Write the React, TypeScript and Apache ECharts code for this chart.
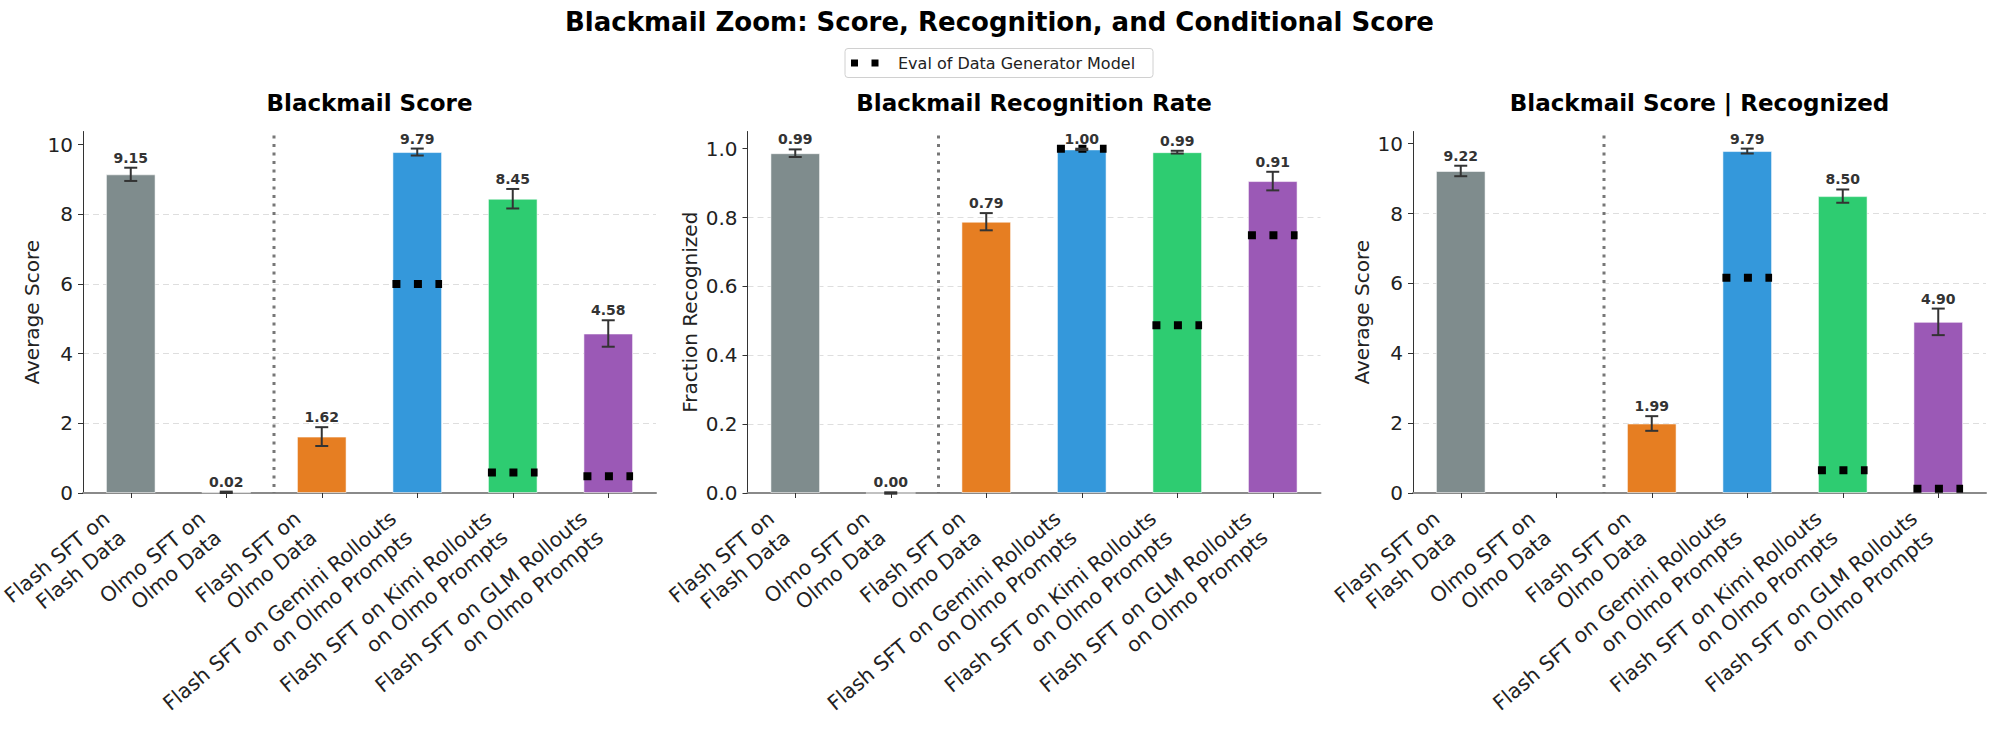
import React, { useEffect, useRef } from 'react';
import * as echarts from 'echarts';

const categories = [
  'Flash SFT on\nFlash Data',
  'Olmo SFT on\nOlmo Data',
  'Flash SFT on\nOlmo Data',
  'Flash SFT on Gemini Rollouts\non Olmo Prompts',
  'Flash SFT on Kimi Rollouts\non Olmo Prompts',
  'Flash SFT on GLM Rollouts\non Olmo Prompts',
];
const barColors = ['#7f8c8d', '#7f8c8d', '#e67e22', '#3498db', '#2ecc71', '#9b59b6'];

const scoreValues = [9.15, 0.02, 1.62, 9.79, 8.45, 4.58];
const scoreErrors = [0.19, 0.02, 0.27, 0.1, 0.28, 0.38];
const scoreEval = [null, null, null, 6.0, 0.59, 0.48];

const recogValues = [0.987, 0.0, 0.788, 0.998, 0.99, 0.906];
const recogErrors = [0.011, 0.002, 0.025, 0.002, 0.004, 0.027];
const recogEval = [null, null, null, 1.0, 0.487, 0.749];

const condValues = [9.22, null, 1.99, 9.79, 8.5, 4.9];
const condErrors = [0.15, null, 0.21, 0.07, 0.19, 0.38];
const condEval = [null, null, null, 6.16, 0.65, 0.12];

const panelTitles = ['Blackmail Score', 'Blackmail Recognition Rate', 'Blackmail Score | Recognized'];
const yNames = ['Average Score', 'Fraction Recognized', 'Average Score'];
const yMax = [10.38, 1.05, 10.35];
const yInterval = [2, 0.2, 2];
const yTicks = [
  [0, 2, 4, 6, 8, 10],
  [0, 0.2, 0.4, 0.6, 0.8, 1.0],
  [0, 2, 4, 6, 8, 10],
];
const yDecimals = [0, 1, 0];
const separatorAfter = 1;
const legendLabel = 'Eval of Data Generator Model';
const mainTitle = 'Blackmail Zoom: Score, Recognition, and Conditional Score';

const FONT = '"DejaVu Sans", Verdana, sans-serif';
const BAR_RATIO = 0.52;

const GRID_TOP = 131.5;
const GRID_H = 361.5;
const GRID_W = 573;
const gridLefts = [83, 747.5, 1413];
const nameGaps = [41, 48, 41];

export default function App() {
  const ref = useRef<HTMLDivElement>(null);
  useEffect(() => {
    document.body.style.margin = '0';
    if (!ref.current) return;
    const chart = echarts.init(ref.current, undefined, { renderer: 'svg' });

    const panels = [
      { vals: scoreValues, errs: scoreErrors, ev: scoreEval },
      { vals: recogValues, errs: recogErrors, ev: recogEval },
      { vals: condValues, errs: condErrors, ev: condEval },
    ];

    const grid = gridLefts.map((l) => ({
      left: l,
      top: GRID_TOP,
      width: GRID_W,
      height: GRID_H,
      containLabel: false,
      outerBoundsMode: 'none',
    }));

    const xAxis = panels.map((_, k) => ({
      type: 'category',
      gridIndex: k,
      data: categories,
      axisLine: { show: true, lineStyle: { color: '#8a8a8a', width: 2 } },
      axisTick: { show: true, alignWithLabel: true, length: 5, lineStyle: { color: '#333', width: 1 } },
      axisLabel: {
        interval: 0,
        rotate: 40,
        align: 'right',
        verticalAlign: 'middle',
        fontSize: 20.5,
        lineHeight: 25,
        fontFamily: FONT,
        color: '#222',
        margin: 18.5,
        padding: [0, 21, 0, 0],
        hideOverlap: false,
      },
      splitLine: { show: false },
    }));

    const yAxis = panels.map((_, k) => ({
      type: 'value',
      gridIndex: k,
      min: 0,
      max: yMax[k],
      interval: yInterval[k],
      name: yNames[k],
      nameLocation: 'middle',
      nameGap: nameGaps[k],
      nameTextStyle: { fontSize: 20, fontFamily: FONT, color: '#222' },
      axisLine: { show: true, lineStyle: { color: '#333', width: 1 } },
      axisTick: { show: true, length: 5, lineStyle: { color: '#333' }, customValues: yTicks[k] },
      axisLabel: {
        fontSize: 20,
        fontFamily: FONT,
        color: '#222',
        margin: 10,
        customValues: yTicks[k],
        formatter: (v: number) => v.toFixed(yDecimals[k]),
      },
      splitLine: {
        show: true,
        showMinLine: false,
        showMaxLine: false,
        lineStyle: { color: '#dedede', type: [6, 4], width: 1 },
      },
    }));

    const series: any[] = [];
    panels.forEach((p, k) => {
      series.push({
        type: 'bar',
        xAxisIndex: k,
        yAxisIndex: k,
        barWidth: `${BAR_RATIO * 100}%`,
        z: 2,
        data: p.vals.map((v, i) =>
          v == null
            ? '-'
            : {
                value: v,
                itemStyle: {
                  color: barColors[i],
                  borderColor: 'rgba(255,255,255,0.55)',
                  borderWidth: 1,
                },
              }
        ),
      });
      // separator
      series.push({
        type: 'custom',
        xAxisIndex: k,
        yAxisIndex: k,
        z: 3,
        silent: true,
        data: [[separatorAfter, 0]],
        renderItem: (params: any, api: any) => {
          const c = api.coord([separatorAfter, 0]);
          const bw = api.size([1, 0])[0];
          const cs = params.coordSys;
          const x = c[0] + bw / 2;
          return {
            type: 'line',
            shape: { x1: x, y1: cs.y + 4, x2: x, y2: cs.y + cs.height },
            style: { stroke: 'rgba(95,95,95,0.85)', lineWidth: 3, lineDash: [3, 5.5] },
          };
        },
      });
      // eval markers
      series.push({
        type: 'custom',
        xAxisIndex: k,
        yAxisIndex: k,
        z: 4,
        silent: true,
        clip: false,
        data: p.ev.map((v, i) => [i, v == null ? 0 : v]),
        renderItem: (params: any, api: any) => {
          const i = params.dataIndex;
          const v = p.ev[i];
          if (v == null) return null;
          const c = api.coord([i, v]);
          const bw = api.size([1, 0])[0] * BAR_RATIO;
          return {
            type: 'line',
            shape: { x1: c[0] - bw / 2, y1: c[1], x2: c[0] + bw / 2, y2: c[1] },
            style: { stroke: '#000', lineWidth: 8, lineDash: [8, 13.5], lineCap: 'butt' },
          };
        },
      });
      // error bars + labels
      series.push({
        type: 'custom',
        xAxisIndex: k,
        yAxisIndex: k,
        z: 5,
        silent: true,
        clip: false,
        data: p.vals.map((v, i) => [i, v == null ? 0 : v]),
        renderItem: (params: any, api: any) => {
          const i = params.dataIndex;
          const v = p.vals[i];
          const e = p.errs[i];
          if (v == null || e == null) return null;
          const top = api.coord([i, v + e]);
          const bot = api.coord([i, v - e]);
          const cw = 6.5;
          const st = { stroke: '#333', lineWidth: 2 };
          return {
            type: 'group',
            children: [
              { type: 'line', shape: { x1: top[0], y1: top[1], x2: bot[0], y2: bot[1] }, style: st },
              { type: 'line', shape: { x1: top[0] - cw, y1: top[1], x2: top[0] + cw, y2: top[1] }, style: st },
              { type: 'line', shape: { x1: bot[0] - cw, y1: bot[1], x2: bot[0] + cw, y2: bot[1] }, style: st },
              {
                type: 'text',
                x: top[0],
                y: top[1] - 3,
                style: {
                  text: v.toFixed(2),
                  align: 'center',
                  verticalAlign: 'bottom',
                  fontSize: 14,
                  fontWeight: 'bold',
                  fontFamily: FONT,
                  fill: '#333',
                },
              },
            ],
          };
        },
      });
    });

    const graphic: any[] = [
      {
        type: 'text',
        x: 999.5,
        y: 22,
        style: {
          text: mainTitle,
          align: 'center',
          verticalAlign: 'middle',
          fontSize: 26,
          fontWeight: 'bold',
          fontFamily: FONT,
          fill: '#000',
        },
      },
      {
        type: 'rect',
        shape: { x: 845, y: 48.5, width: 308, height: 29, r: 3 },
        style: { fill: '#fff', stroke: '#d0d0d0', lineWidth: 1 },
      },
      {
        type: 'line',
        shape: { x1: 851, y1: 63, x2: 881, y2: 63 },
        style: { stroke: '#000', lineWidth: 7, lineDash: [7, 13.5], lineCap: 'butt' },
      },
      {
        type: 'text',
        x: 898,
        y: 63.5,
        style: {
          text: legendLabel,
          align: 'left',
          verticalAlign: 'middle',
          fontSize: 16,
          fontFamily: FONT,
          fill: '#222',
        },
      },
    ];
    panelTitles.forEach((t, k) => {
      graphic.push({
        type: 'text',
        x: gridLefts[k] + GRID_W / 2,
        y: 103,
        style: {
          text: t,
          align: 'center',
          verticalAlign: 'middle',
          fontSize: 23,
          fontWeight: 'bold',
          fontFamily: FONT,
          fill: '#000',
        },
      });
    });

    chart.setOption({
      animation: false,
      backgroundColor: '#fff',
      grid,
      xAxis,
      yAxis,
      series,
      graphic,
    });
    return () => chart.dispose();
  }, []);
  return <div ref={ref} style={{ width: 1999, height: 736 }} />;
}
